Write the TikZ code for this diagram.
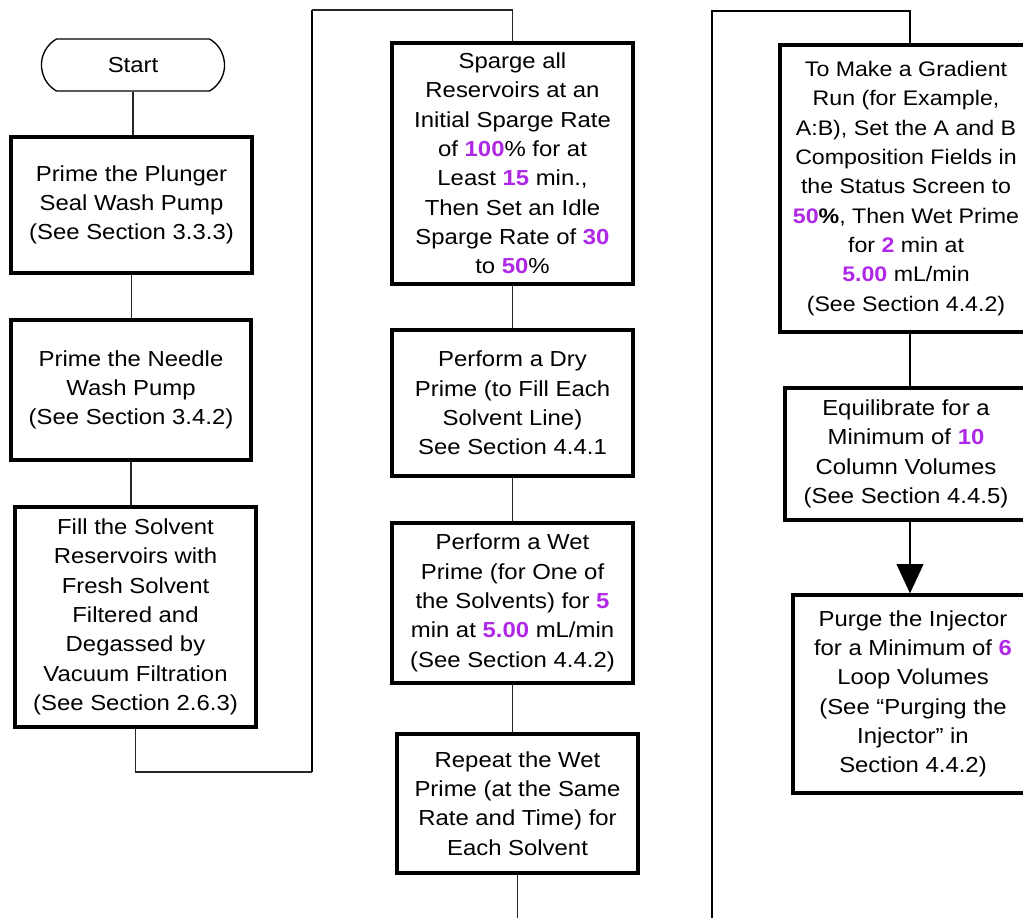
\documentclass[tikz,border=0pt]{standalone}
\usepackage{fontspec}
\setmainfont[FakeStretch=1.1]{Liberation Sans}
\usepackage{xcolor}
\usepackage{tikz}
\usetikzlibrary{shapes.misc,arrows.meta}
\definecolor{primepurple}{RGB}{175,40,230}
\newcommand{\pnum}[1]{\textcolor{primepurple}{\textbf{#1}}}

\begin{document}
\begin{tikzpicture}[x=0.75pt, y=-0.75pt,
    stepbox/.style={draw, rectangle, line width=2.4pt, align=center,
      font=\fontsize{16.3}{22}\selectfont, inner sep=2pt},
    link/.style={draw=black!85, line width=0.8pt},
    heavylink/.style={draw, line width=1.6pt}]
    \useasboundingbox (0,0) rectangle (1023,918);
    \clip (0,0) rectangle (1023,918);

    % first column
    \node[draw, rounded rectangle, rounded rectangle arc length=120, line width=1pt,
      minimum width=144pt, minimum height=39pt,
      font=\fontsize{16.3}{22}\selectfont] (start) at (133,65) {Start};
    \node[stepbox, minimum width=180.75pt, minimum height=102pt] (sealwash) at (131.5,205)
      {Prime the Plunger\\Seal Wash Pump\\(See Section 3.3.3)};
    \node[stepbox, minimum width=180pt, minimum height=105pt] (needlewash) at (131,390)
      {Prime the Needle\\Wash Pump\\(See Section 3.4.2)};
    \node[stepbox, minimum width=180.75pt, minimum height=165pt] (fill) at (135.5,617)
      {Fill the Solvent\\Reservoirs with\\Fresh Solvent\\Filtered and\\Degassed by\\Vacuum Filtration\\(See Section 2.6.3)};

    % second column
    \node[stepbox, minimum width=180.75pt, minimum height=180.75pt] (sparge) at (512.5,163.5)
      {Sparge all\\Reservoirs at an\\Initial Sparge Rate\\of \pnum{100}\% for at\\Least \pnum{15} min.,\\Then Set an Idle\\Sparge Rate of \pnum{30}\\to \pnum{50}\%};
    \node[stepbox, minimum width=180.75pt, minimum height=109.5pt] (dryprime) at (512.5,403)
      {Perform a Dry\\Prime (to Fill Each\\Solvent Line)\\See Section 4.4.1};
    \node[stepbox, minimum width=180.75pt, minimum height=120pt] (wetprime) at (512.5,603)
      {Perform a Wet\\Prime (for One of\\the Solvents) for \pnum{5}\\min at \pnum{5.00} mL/min\\(See Section 4.4.2)};
    \node[stepbox, minimum width=180.75pt, minimum height=104.25pt] (repeat) at (517.5,803.5)
      {Repeat the Wet\\Prime (at the Same\\Rate and Time) for\\Each Solvent};

    % third column
    \node[stepbox, minimum width=189pt, minimum height=215.25pt,
      font=\fontsize{15.8}{22}\selectfont] (gradient) at (906,188.5)
      {To Make a Gradient\\Run (for Example,\\A:B), Set the A and B\\Composition Fields in\\the Status Screen to\\\pnum{50}\textbf{\%}, Then Wet Prime\\for \pnum{2} min at\\\pnum{5.00} mL/min\\(See Section 4.4.2)};
    \node[stepbox, minimum width=181.5pt, minimum height=99pt] (equil) at (906,454)
      {Equilibrate for a\\Minimum of \pnum{10}\\Column Volumes\\(See Section 4.4.5)};
    \node[stepbox, minimum width=180pt, minimum height=148.5pt] (purge) at (913,694)
      {Purge the Injector\\for a Minimum of \pnum{6}\\Loop Volumes\\(See ``Purging the\\Injector'' in\\Section 4.4.2)};

    % turning points
    \coordinate (turnA) at (312,772);
    \coordinate (turnB) at (312,10);
    \coordinate (outA) at (515,918);
    \coordinate (inB) at (712,918);
    \coordinate (turnC) at (712,11);
    \coordinate (dropC) at (910,0);

    \draw[link] (start.south) -- (start.south |- sealwash.north);
    \draw[link] (sealwash.south) -- (sealwash.south |- needlewash.north);
    \draw[link] (needlewash.south) -- (needlewash.south |- fill.north);
    \draw[link] (fill.south) |- (turnA);
    \draw[heavylink] (turnA) -- (turnB);
    \draw[link] (turnB) -| (sparge.north);
    \draw[link] (sparge.south) -- (sparge.south |- dryprime.north);
    \draw[link] (dryprime.south) -- (dryprime.south |- wetprime.north);
    \draw[link] (wetprime.south) -- (wetprime.south |- repeat.north);
    \draw[link] (repeat.south) -- (repeat.south |- outA);
    \draw[heavylink] (inB) -- (turnC) -| (dropC |- gradient.north);
    \draw[heavylink] (dropC |- gradient.south) -- (dropC |- equil.north);
    \draw[heavylink, -{Triangle[length=22pt, width=20pt]}] (dropC |- equil.south) -- (dropC |- purge.north);
\end{tikzpicture}
\end{document}
